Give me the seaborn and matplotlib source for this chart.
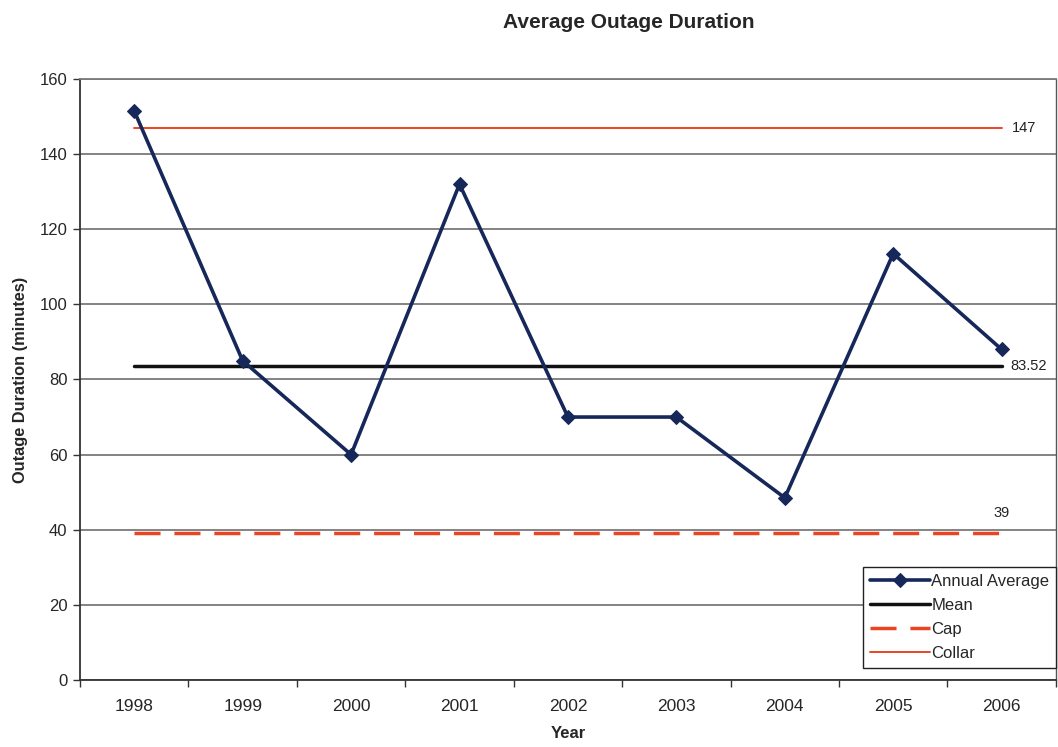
import numpy as np
import pandas as pd
import matplotlib
matplotlib.use("Agg")
import matplotlib.pyplot as plt
import seaborn as sns

years = ["1998", "1999", "2000", "2001", "2002", "2003", "2004", "2005", "2006"]
annual_average = [151.5, 85, 60, 132, 70, 70, 48.5, 113.5, 88]
mean_value = 83.52
cap_value = 39
collar_value = 147
y_ticks = [0, 20, 40, 60, 80, 100, 120, 140, 160]

sns.set_theme(style="white")
plt.rcParams["font.family"] = ["Liberation Sans", "DejaVu Sans"]

pos = np.arange(len(years))
df = pd.DataFrame({
    "pos": pos,
    "Annual Average": annual_average,
    "Mean": [mean_value] * len(years),
    "Cap": [cap_value] * len(years),
    "Collar": [collar_value] * len(years),
})

fig = plt.figure(figsize=(10.58, 7.47), dpi=100)
ax = fig.add_axes([0.0756, 0.0897, 0.9224, 0.8046])

navy = "#16275a"
red = "#ec4422"

# reference lines first, data series on top
sns.lineplot(data=df, x="pos", y="Collar", ax=ax, color=red, linewidth=1.4,
             label="Collar", zorder=3)
sns.lineplot(data=df, x="pos", y="Cap", ax=ax, color=red, linewidth=2.5,
             label="Cap", zorder=3, dashes=False)
ax.lines[-1].set_dashes([7.5, 4])
sns.lineplot(data=df, x="pos", y="Mean", ax=ax, color="#111111", linewidth=2.5,
             label="Mean", zorder=3)
sns.lineplot(data=df, x="pos", y="Annual Average", ax=ax, color=navy,
             linewidth=2.6, marker="D", markersize=7.5, markeredgecolor=navy,
             label="Annual Average", zorder=4)

ax.set_xlim(-0.5, len(years) - 0.5)
ax.set_ylim(0, 160)
ax.set_yticks(y_ticks)
ax.set_yticklabels([str(v) for v in y_ticks], fontsize=12)
ax.set_xticks(pos)
ax.set_xticklabels(years, fontsize=12.5)
ax.set_xticks(np.arange(-0.5, len(years)), minor=True)
ax.tick_params(axis="x", which="major", length=0, pad=14)
ax.tick_params(axis="x", which="minor", length=5, width=1, color="#333333",
               direction="out", bottom=True)
ax.tick_params(axis="y", which="major", length=5, width=1, color="#333333",
               direction="out", left=True, pad=4)

ax.yaxis.grid(True, color="#7a7a7a", linewidth=1.3)
ax.xaxis.grid(False)
ax.set_axisbelow(True)
for side in ["left", "bottom"]:
    ax.spines[side].set_color("#333333")
    ax.spines[side].set_linewidth(1.3)
ax.spines["right"].set_color("#555555")
ax.spines["right"].set_linewidth(1.0)
ax.spines["top"].set_color("#7a7a7a")
ax.spines["top"].set_linewidth(1.3)

ax.set_xlabel("Year", fontsize=12, fontweight="bold", labelpad=8)
ax.set_ylabel("Outage Duration (minutes)", fontsize=11.8, fontweight="bold",
              labelpad=8)

# value labels at the right end of the reference lines
last = pos[-1]
ax.text(last + 0.09, collar_value, f"{collar_value}", fontsize=10.5,
        va="center", ha="left", color="#222222")
ax.text(last + 0.08, mean_value, f"{mean_value:.2f}", fontsize=10.5,
        va="center", ha="left", color="#222222")
ax.text(last, cap_value + 3.5, f"{cap_value}", fontsize=10.5,
        va="bottom", ha="center", color="#222222")

handles, labels = ax.get_legend_handles_labels()
order = ["Annual Average", "Mean", "Cap", "Collar"]
hmap = dict(zip(labels, handles))
leg = ax.legend([hmap[k] for k in order], order, loc="lower right",
                bbox_to_anchor=(1.0, 0.02), borderaxespad=0, fontsize=12,
                frameon=True, fancybox=False, framealpha=1, edgecolor="#222222",
                handlelength=3.6, handletextpad=0.1, labelspacing=0.55,
                borderpad=0.4)
leg.get_frame().set_linewidth(1.0)

fig.text(0.594, 0.97, "Average Outage Duration", fontsize=15,
         fontweight="bold", ha="center", va="center")

fig.savefig("out.png", dpi=100)
